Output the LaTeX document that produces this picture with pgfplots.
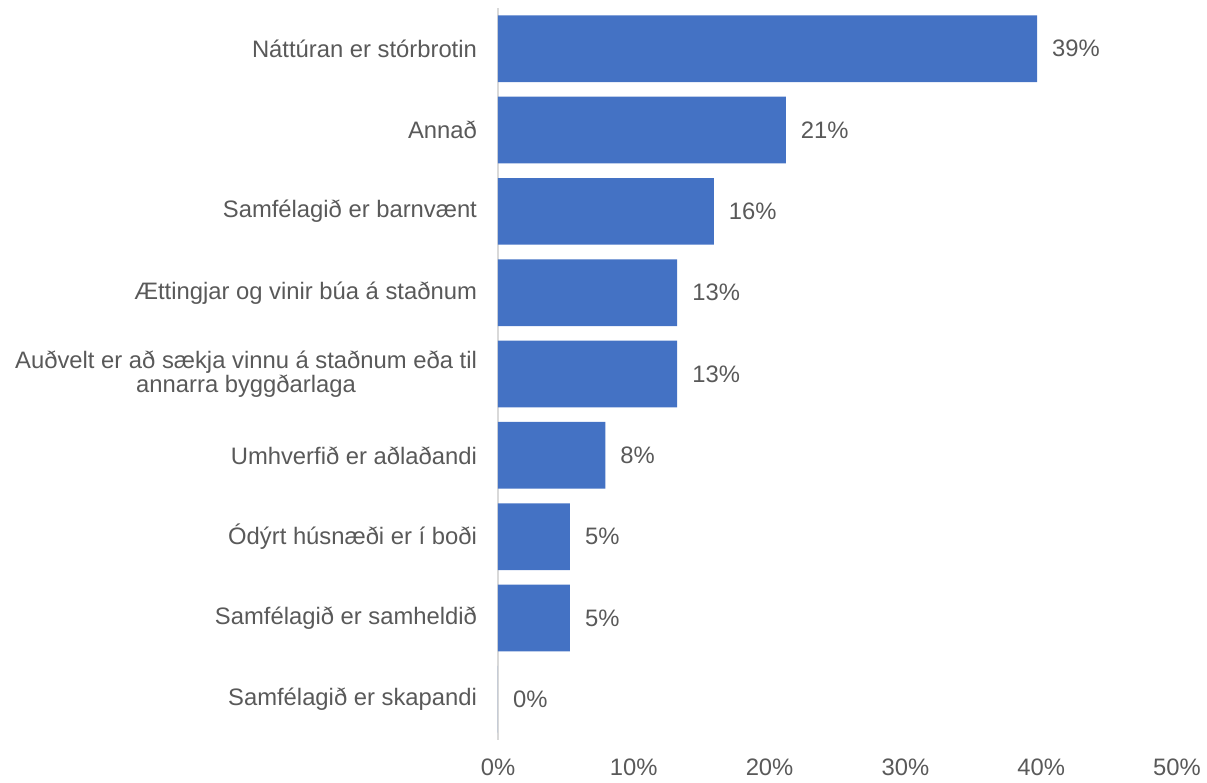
\documentclass[border=0pt]{standalone}
\usepackage{pgfplots}
\pgfplotsset{compat=1.18}
\usepackage{pgfplotstable}
\usepackage{fontspec}
\setmainfont{Liberation Sans}
\definecolor{barblue}{HTML}{4472C4}
\definecolor{txt}{HTML}{595959}
\definecolor{axgrey}{HTML}{D9D9D9}
\pgfplotstableread{
y x lab
0 39.7 39
1 21.2 21
2 15.9 16
3 13.2 13
4 13.2 13
5 7.9 8
6 5.3 5
7 5.3 5
8 0 0
}\data
\begin{document}
\begin{tikzpicture}
\path[use as bounding box] (-249pt,-21.5pt) rectangle (354.5pt,370pt);
\begin{axis}[
  scale only axis, width=339.5pt, height=366pt,
  xbar, bar width=0.82, bar shift=0pt,
  xmin=0, xmax=50, ymin=-0.5, ymax=8.5, y dir=reverse,
  axis y line*=left, axis x line*=bottom,
  x axis line style={draw=none},
  y axis line style={draw=axgrey, line width=0.8pt},
  major tick length=0pt,
  xtick={0,10,20,30,40,50},
  xticklabels={0\%,10\%,20\%,30\%,40\%,50\%},
  ytick={0,...,8},
  yticklabels={Náttúran er stórbrotin, Annað, Samfélagið er barnvænt, Ættingjar og vinir búa á staðnum, {Auðvelt er að sækja vinnu á staðnum eða til\\annarra byggðarlaga}, Umhverfið er aðlaðandi, Ódýrt húsnæði er í boði, Samfélagið er samheldið, Samfélagið er skapandi},
  yticklabel style={align=center, font=\fontsize{11.9}{12}\selectfont, text=txt, xshift=-7pt},
  xticklabel style={font=\fontsize{11.9}{14}\selectfont, text=txt, yshift=-6pt},
  nodes near coords={\pgfplotspointmeta\%},
  point meta=explicit symbolic,
  nodes near coords style={anchor=west, font=\fontsize{11.9}{14}\selectfont, text=txt, xshift=4pt},
  clip=false,
]
\addplot[fill=barblue, draw=none] table[x=x, y=y, meta=lab]{\data};
\end{axis}
\end{tikzpicture}
\end{document}
